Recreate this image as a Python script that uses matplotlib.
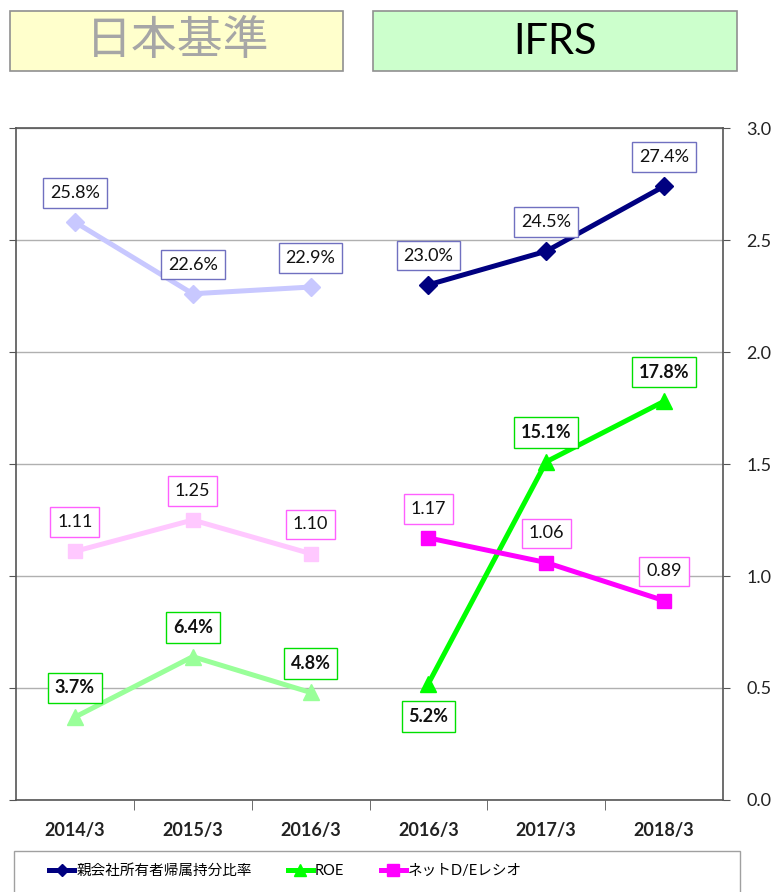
import numpy as np
import matplotlib
matplotlib.use("Agg")
import matplotlib.pyplot as plt
from matplotlib.patches import Rectangle
from matplotlib.lines import Line2D

plt.rcParams['font.family'] = ['Lato', 'Noto Sans CJK JP', 'DejaVu Sans']

# data
categories = ['2014/3', '2015/3', '2016/3', '2016/3', '2017/3', '2018/3']
equity_ratio = [25.8, 22.6, 22.9, 23.0, 24.5, 27.4]   # %
roe = [3.7, 6.4, 4.8, 5.2, 15.1, 17.8]                # %
net_de = [1.11, 1.25, 1.10, 1.17, 1.06, 0.89]          # times
series_names = ['親会社所有者帰属持分比率', 'ROE', 'ネットD/Eレシオ']
y_ticks = [0.0, 0.5, 1.0, 1.5, 2.0, 2.5, 3.0]

# colours: (faded JGAAP part, IFRS part, label border)
navy = ('#C8C8FF', '#000080', '#7070C0')
green = ('#99FF99', '#00FF00', '#00E000')
pink = ('#FFC8FF', '#FF00FF', '#FF60FF')

fig = plt.figure(figsize=(7.75, 8.92), dpi=100)
ax = fig.add_axes([16/775, 1-800/892, 707/775, 672/892])

x = np.arange(len(categories))
jp = slice(0, 3)
ifrs = slice(3, 6)

# percentages are plotted at 1/10 on the same 0-3 scale as D/E
eq = np.array(equity_ratio) / 10
ro = np.array(roe) / 10
de = np.array(net_de)

def draw(vals, cols, marker, ms):
    ax.plot(x[jp], vals[jp], color=cols[0], lw=3.6, marker=marker, ms=ms, zorder=3)
    ax.plot(x[ifrs], vals[ifrs], color=cols[1], lw=3.6, marker=marker, ms=ms, zorder=3)

draw(eq, navy, 'D', 9)
draw(ro, green, '^', 11)
draw(de, pink, 's', 10)

def label(i, y, text, ec, bold=False, dy=21):
    ax.annotate(text, (x[i], y), xytext=(0, dy), textcoords='offset points',
                ha='center', va='center', fontsize=13,
                fontweight='bold' if bold else 'normal', color='#111111',
                bbox=dict(boxstyle='square,pad=0.38', fc='white', ec=ec, lw=1),
                zorder=5)

for i in range(6):
    label(i, eq[i], f'{equity_ratio[i]:.1f}%', navy[2])
    label(i, de[i], f'{net_de[i]:.2f}', pink[2])
    dy = -24 if i == 3 else 21
    label(i, ro[i], f'{roe[i]:.1f}%', green[2], bold=True, dy=dy)

ax.set_xlim(-0.5, 5.5)
ax.set_ylim(0, 3)
ax.set_yticks(y_ticks)
ax.set_yticklabels([f'{v:.1f}' for v in y_ticks])
ax.yaxis.set_ticks_position('both')
ax.tick_params(axis='y', direction='out', length=5, labelleft=False, labelright=True,
               labelsize=13, pad=12, color='#555555', labelcolor='#222222')
ax.grid(axis='y', color='#B0B0B0', lw=1)
ax.set_axisbelow(True)

ax.set_xticks(x)
ax.set_xticklabels(categories, fontsize=13, fontweight='bold', color='#222222')
ax.set_xticks(np.arange(0.5, 5.5, 1), minor=True)
ax.tick_params(axis='x', which='major', length=0, pad=16)
ax.tick_params(axis='x', which='minor', length=7, direction='out', color='#555555')
for s in ax.spines.values():
    s.set_color('#555555')
    s.set_linewidth(1.2)

# header boxes
fig.add_artist(Rectangle((10/775, 1-71/892), 333/775, 60/892, transform=fig.transFigure,
                         fc='#FFFFCC', ec='#909090', lw=1.2))
fig.add_artist(Rectangle((373/775, 1-71/892), 364/775, 60/892, transform=fig.transFigure,
                         fc='#CCFFCC', ec='#909090', lw=1.2))
fig.text(178/775, 1-41/892, '日本基準', ha='center', va='center', fontsize=33,
         color='#A6A6A6', family=['Noto Sans CJK JP'])
fig.text(555/775, 1-42/892, 'IFRS', ha='center', va='center', fontsize=30, color='black')

# legend
fig.add_artist(Rectangle((14/775, -5/892), 726/775, 46/892, transform=fig.transFigure,
                         fc='white', ec='#A0A0A0', lw=1))
handles = [Line2D([], [], color=navy[1], lw=3.6, marker='D', ms=6),
           Line2D([], [], color=green[1], lw=3.6, marker='^', ms=8),
           Line2D([], [], color=pink[1], lw=3.6, marker='s', ms=8)]
fig.legend(handles, series_names, loc='center left', bbox_to_anchor=(36/775, 1-871/892),
           ncol=3, frameon=False, fontsize=10.5, handlelength=1.7, handletextpad=0.15,
           columnspacing=2.5, numpoints=1)

fig.savefig('out.png', dpi=100)
